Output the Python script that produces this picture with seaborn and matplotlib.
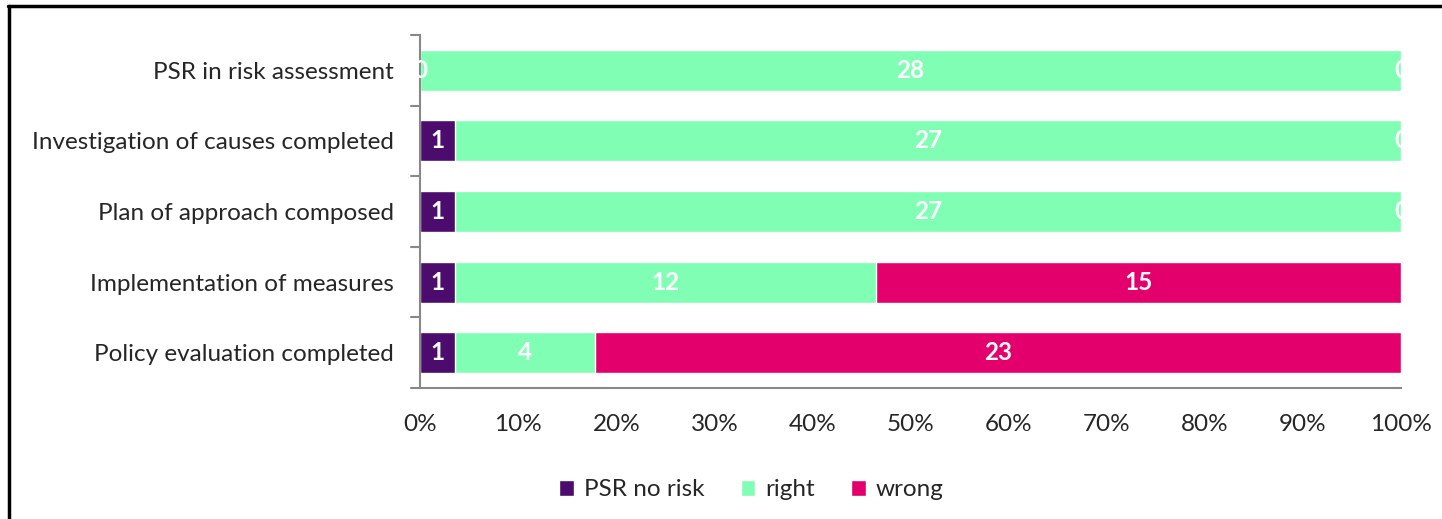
import numpy as np
import pandas as pd
import seaborn as sns
import matplotlib.pyplot as plt
from matplotlib.lines import Line2D
from matplotlib.patches import Patch

categories = ['PSR in risk assessment', 'Investigation of causes completed',
              'Plan of approach composed', 'Implementation of measures',
              'Policy evaluation completed']
psr_no_risk = [0, 1, 1, 1, 1]
right = [28, 27, 27, 12, 4]
wrong = [0, 0, 0, 15, 23]
series_names = ['PSR no risk', 'right', 'wrong']
colors = ['#4b0c6e', '#80ffb4', '#e3006c']
xtick_labels = [f'{v}%' for v in range(0, 101, 10)]

sns.set_style('white')
plt.rcParams['font.family'] = ['Lato', 'DejaVu Sans']
fs = 17.5

df = pd.DataFrame({'category': categories, 'PSR no risk': psr_no_risk,
                   'right': right, 'wrong': wrong})
counts = df[series_names].astype(float)
total = counts.sum(axis=1)
pct = counts.div(total, axis=0) * 100
cum = pct.cumsum(axis=1)

fig = plt.figure(figsize=(14.42, 5.19), dpi=100)
ax = fig.add_axes([0.2913, 0.2524, 0.6803, 0.6802])

# stacked bars: draw cumulative totals from the back
for name, col in reversed(list(zip(series_names, colors))):
    sns.barplot(x=cum[name], y=df['category'], orient='h', color=col,
                width=0.58, saturation=1, ax=ax)

# value labels
for i in range(len(categories)):
    start = 0
    for name in series_names:
        w = pct[name].iloc[i]
        ax.text(start + w / 2, i, str(int(counts[name].iloc[i])), color='white',
                ha='center', va='center', fontsize=fs, fontweight='bold')
        start += w

ax.set_xlim(0, 100)
ax.set_ylim(len(categories) - 0.5, -0.5)
ax.set_xticks(np.arange(0, 101, 10))
ax.set_xticklabels(xtick_labels, fontsize=fs)
ax.set_yticks(range(len(categories)))
ax.set_yticklabels(categories, fontsize=fs)
ax.set_xlabel('')
ax.set_ylabel('')

ax.tick_params(axis='y', length=0, pad=19)
ax.tick_params(axis='x', length=6, color='#888888', width=1.5, pad=13)
for yb in np.arange(-0.5, len(categories), 1):
    ax.plot([-0.9, 0], [yb, yb], color='#888888', lw=1.5, clip_on=False)

sns.despine(ax=ax, top=True, right=True)
for s in ['left', 'bottom']:
    ax.spines[s].set_color('#888888')
    ax.spines[s].set_linewidth(1.5)

handles = [Patch(facecolor=c, label=n) for n, c in zip(series_names, colors)]
fig.legend(handles=handles, loc='center', bbox_to_anchor=(0.521, 0.056), ncol=3,
           frameon=False, fontsize=fs, handlelength=0.6, handleheight=0.6,
           columnspacing=1.5, handletextpad=0.4)

# chart border (top and left visible)
fig.add_artist(Line2D([0.0055, 1.0], [0.989, 0.989], transform=fig.transFigure,
                      color='black', lw=2.5))
fig.add_artist(Line2D([0.0065, 0.0065], [0.0, 0.989], transform=fig.transFigure,
                      color='black', lw=2.5))

fig.savefig('out.png', dpi=100)
